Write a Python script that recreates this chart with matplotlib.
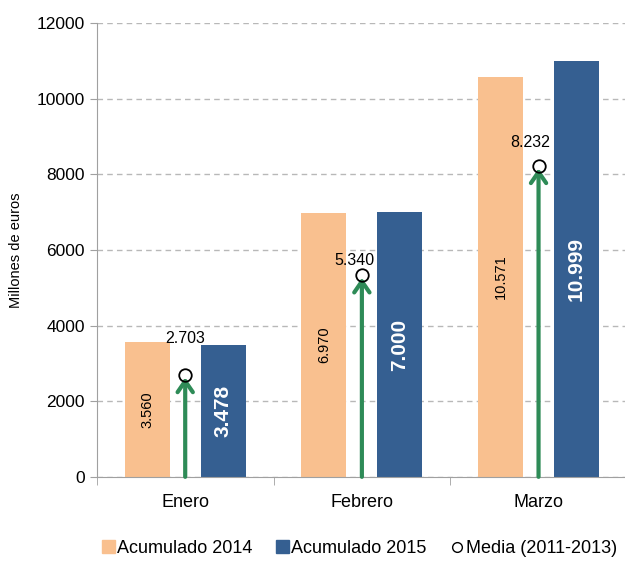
import matplotlib
matplotlib.use("Agg")
import matplotlib.pyplot as plt
from matplotlib.lines import Line2D
from matplotlib.patches import Patch
import numpy as np

plt.rcParams['font.family'] = ['Liberation Sans', 'DejaVu Sans']

meses = ['Enero', 'Febrero', 'Marzo']
acum_2014 = [3560, 6970, 10571]
acum_2015 = [3478, 7000, 10999]
media = [2703, 5340, 8232]

def fmt(v):
    return '{:,}'.format(v).replace(',', '.')

c2014 = '#f9c08f'
c2015 = '#355f91'
cverde = '#2e8b57'
cgris = '#a0a0a0'

fig = plt.figure(figsize=(6.25, 5.61), dpi=100)
ax = fig.add_axes([0.155, 0.150, 0.848, 0.809])

x = np.arange(len(meses))
w = 0.255
off = 0.215
ax.bar(x - off, acum_2014, w, color=c2014, zorder=2)
ax.bar(x + off, acum_2015, w, color=c2015, zorder=2)

# desplazamiento de las etiquetas de la media (x en categorias, y en euros)
lab_dx = [0.0, -0.04, -0.045]
lab_dy = [950, 390, 600]

for i in range(len(meses)):
    ax.annotate('', xy=(x[i], media[i]), xytext=(x[i], 0),
                arrowprops=dict(arrowstyle='->,head_length=0.8,head_width=0.55',
                                color=cverde, lw=3, shrinkA=0, shrinkB=2),
                zorder=3)
    ax.text(x[i] - off, acum_2014[i] / 2, fmt(acum_2014[i]), rotation=90,
            ha='center', va='center', fontsize=10.5, color='black', zorder=4)
    ax.text(x[i] + off, acum_2015[i] / 2, fmt(acum_2015[i]), rotation=90,
            ha='center', va='center', fontsize=15, color='white',
            fontweight='bold', zorder=4)
    ax.text(x[i] + lab_dx[i], media[i] + lab_dy[i], fmt(media[i]),
            ha='center', va='center', fontsize=11.5, color='black', zorder=6)

ax.plot(x, media, 'o', mfc='none', mec='black', mew=1.3, ms=9, ls='none', zorder=5)

ax.set_xlim(-0.5, 2.5)
ax.set_ylim(0, 12000)
ax.set_yticks(np.arange(0, 12001, 2000))
ax.set_xticks(x)
ax.set_xticklabels(meses, fontsize=13)
ax.set_xticks([-0.5, 0.5, 1.5, 2.5], minor=True)
ax.tick_params(axis='x', which='major', length=0, pad=12)
ax.tick_params(axis='x', which='minor', length=6, color=cgris)
ax.tick_params(axis='y', length=5, color=cgris, labelsize=12.5)
ax.yaxis.grid(True, ls=(0, (4, 3)), color='#b8b8b8', lw=1, zorder=0)
ax.set_axisbelow(True)
for s in ['top', 'right']:
    ax.spines[s].set_visible(False)
ax.spines['left'].set_color(cgris)
ax.spines['bottom'].set_color(cgris)
ax.set_ylabel('Millones de euros', fontsize=10.5, labelpad=10)

handles = [Patch(color=c2014, label='Acumulado 2014'),
           Patch(color=c2015, label='Acumulado 2015'),
           Line2D([], [], marker='o', ls='none', mfc='none', mec='black', ms=7,
                  label='Media (2011-2013)')]
fig.legend(handles=handles, loc='lower center', bbox_to_anchor=(0.575, -0.022),
           ncol=3, frameon=False, fontsize=13, handlelength=0.7,
           handleheight=0.7, handletextpad=0.15, columnspacing=1.3)

fig.savefig('out.png', dpi=100)
